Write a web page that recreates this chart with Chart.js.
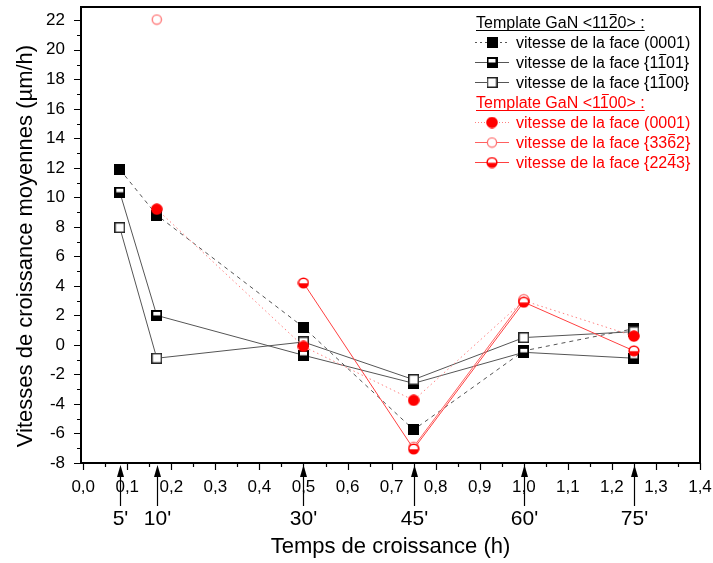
<!DOCTYPE html>
<html>
<head>
<meta charset="utf-8">
<script src="https://cdn.jsdelivr.net/npm/chart.js@4.4.1/dist/chart.umd.min.js"></script>
<style>
  html, body { margin: 0; padding: 0; background: #fff; }
  #wrap { width: 713px; height: 563px; }
</style>
</head>
<body>
<div id="wrap"><canvas id="chart" width="713" height="563"></canvas></div>
<script>
// growth times (h) and their labels in minutes
const times = [0.083, 0.167, 0.5, 0.75, 1.0, 1.25];
const timeLabels = ["5'", "10'", "30'", "45'", "60'", "75'"];

// template GaN <11-20>
const face0001A = [11.9, 8.8, 1.2, -5.75, -0.4, 1.1];
const face1101A = [10.35, 2.0, -0.7, -2.6, -0.5, -0.9];
const face1100A = [7.95, -0.9, 0.2, -2.35, 0.5, 0.9];
// template GaN <1-100>
const face0001B = [null, 9.2, -0.1, -3.75, 3.0, 0.6];
const face3362B = [null, 22.05, null, -6.9, 3.1, null];
const face2243B = [null, null, 4.2, -7.05, 2.9, -0.4];

const xTicks = [0, 0.1, 0.2, 0.3, 0.4, 0.5, 0.6, 0.7, 0.8, 0.9, 1.0, 1.1, 1.2, 1.3, 1.4];
const yTicks = [-8, -6, -4, -2, 0, 2, 4, 6, 8, 10, 12, 14, 16, 18, 20, 22];

const FONT = "'Liberation Sans', Arial, sans-serif";
const RED = "#ff0000";

function marker(size, draw) {
  const c = document.createElement("canvas");
  c.width = c.height = size;
  draw(c.getContext("2d"), size / 2);
  return c;
}

const mFilledSq = marker(11, (g) => { g.fillStyle = "#000"; g.fillRect(0, 0, 11, 11); });
const mHalfSq = marker(11, (g) => {
  g.fillStyle = "#000"; g.fillRect(0, 0, 11, 11);
  g.fillStyle = "#fff"; g.fillRect(2, 2, 7, 3.5);
});
const mOpenSq = marker(11, (g) => {
  g.fillStyle = "#fff"; g.fillRect(0, 0, 11, 11);
  g.strokeStyle = "#222"; g.lineWidth = 1.5; g.strokeRect(0.75, 0.75, 9.5, 9.5);
});
const mFilledCi = marker(12, (g, c) => {
  g.fillStyle = RED; g.beginPath(); g.arc(c, c, 5.8, 0, Math.PI * 2); g.fill();
});
const mOpenCi = marker(12, (g, c) => {
  g.fillStyle = "#fff"; g.strokeStyle = "#ff7070"; g.lineWidth = 1.3;
  g.beginPath(); g.arc(c, c, 4.6, 0, Math.PI * 2); g.fill(); g.stroke();
});
const mHalfCi = marker(12, (g, c) => {
  g.fillStyle = RED; g.beginPath(); g.arc(c, c, 5.6, 0, Math.PI * 2); g.fill();
  g.save(); g.beginPath(); g.arc(c, c, 4.1, 0, Math.PI * 2); g.clip();
  g.fillStyle = "#fff"; g.fillRect(0, 0, 12, c + 0.3); g.restore();
});

function series(label, values, style, color, dash, order) {
  return {
    label,
    data: times.map((t, i) => ({ x: t, y: values[i] })),
    showLine: true,
    borderColor: color,
    borderWidth: 1,
    borderDash: dash,
    pointStyle: style,
    pointRadius: 6,
    spanGaps: false,
    order
  };
}

const datasets = [
  series("vitesse de la face (0001)", face0001A, mFilledSq, "#555", [4, 4], 6),
  series("vitesse de la face {1-101}", face1101A, mHalfSq, "#555", [], 5),
  series("vitesse de la face {1-100}", face1100A, mOpenSq, "#555", [], 4),
  series("vitesse de la face (0001)", face0001B, mFilledCi, "#ff8080", [1.5, 3], 3),
  series("vitesse de la face {33-62}", face3362B, mOpenCi, "#ff6060", [], 2),
  series("vitesse de la face {22-43}", face2243B, mHalfCi, "#ff4040", [], 1)
];

// legend rows: text, barred character index, marker, colour, line dash
const legendRows = [
  { text: "Template GaN <1120> :", bar: 16, header: true, color: "#000" },
  { text: "vitesse de la face (0001)", bar: -1, m: mFilledSq, color: "#000", line: "#555", dash: [2, 3] },
  { text: "vitesse de la face {1101}", bar: 21, m: mHalfSq, color: "#000", line: "#555", dash: [] },
  { text: "vitesse de la face {1100}", bar: 21, m: mOpenSq, color: "#000", line: "#555", dash: [] },
  { text: "Template GaN <1100> :", bar: 15, header: true, color: RED },
  { text: "vitesse de la face (0001)", bar: -1, m: mFilledCi, color: RED, line: "#ff8080", dash: [1, 2] },
  { text: "vitesse de la face {3362}", bar: 22, m: mOpenCi, color: RED, line: "#ff6060", dash: [] },
  { text: "vitesse de la face {2243}", bar: 22, m: mHalfCi, color: RED, line: "#ff4040", dash: [] }
];

const decorPlugin = {
  id: "decor",
  afterDraw(chart) {
    const { ctx, chartArea: a, scales: { x, y } } = chart;
    ctx.save();
    // frame
    ctx.strokeStyle = "#000";
    ctx.lineWidth = 2;
    ctx.strokeRect(a.left, a.top, a.right - a.left, a.bottom - a.top);
    // ticks, major and minor
    ctx.lineWidth = 1.2;
    ctx.beginPath();
    xTicks.forEach((v, i) => {
      const px = Math.round(x.getPixelForValue(v)) + 0.5;
      ctx.moveTo(px, a.bottom); ctx.lineTo(px, a.bottom + 7);
      if (i < xTicks.length - 1) {
        const m = Math.round(x.getPixelForValue((v + xTicks[i + 1]) / 2)) + 0.5;
        ctx.moveTo(m, a.bottom); ctx.lineTo(m, a.bottom + 4);
      }
    });
    yTicks.forEach((v, i) => {
      const py = Math.round(y.getPixelForValue(v)) + 0.5;
      ctx.moveTo(a.left, py); ctx.lineTo(a.left - 7, py);
      if (i < yTicks.length - 1) {
        const m = Math.round(y.getPixelForValue((v + yTicks[i + 1]) / 2)) + 0.5;
        ctx.moveTo(a.left, m); ctx.lineTo(a.left - 4, m);
      }
    });
    ctx.stroke();

    // arrows marking growth times
    ctx.fillStyle = "#000";
    ctx.lineWidth = 1.2;
    ctx.font = "21px " + FONT;
    ctx.textAlign = "center";
    ctx.textBaseline = "middle";
    times.forEach((t, i) => {
      const px = Math.round(x.getPixelForValue(t)) + 0.5;
      const tip = a.bottom + 2;
      ctx.beginPath();
      ctx.moveTo(px, tip + 10); ctx.lineTo(px, 506);
      ctx.stroke();
      ctx.beginPath();
      ctx.moveTo(px, tip); ctx.lineTo(px - 3.5, tip + 12); ctx.lineTo(px + 3.5, tip + 12);
      ctx.closePath(); ctx.fill();
      ctx.fillText(timeLabels[i], px, 519);
    });

    // axis titles
    ctx.font = "22px " + FONT;
    ctx.fillText("Temps de croissance (h)", (a.left + a.right) / 2, 547);
    ctx.save();
    ctx.translate(26, 246);
    ctx.rotate(-Math.PI / 2);
    ctx.fillText("Vitesses de croissance moyennes (µm/h)", 0, 0);
    ctx.restore();

    // legend
    ctx.font = "16px " + FONT;
    ctx.textAlign = "left";
    ctx.textBaseline = "alphabetic";
    legendRows.forEach((r, i) => {
      const cy = 22 + i * 20;
      const tx = r.header ? 476 : 516;
      const base = cy + 6;
      ctx.fillStyle = r.color;
      ctx.fillText(r.text, tx, base);
      ctx.strokeStyle = r.color;
      ctx.lineWidth = 1;
      ctx.setLineDash([]);
      if (r.bar >= 0) {
        const bx = tx + ctx.measureText(r.text.slice(0, r.bar)).width;
        const bw = ctx.measureText(r.text[r.bar]).width;
        ctx.beginPath();
        ctx.moveTo(bx + 1, base - 13.5); ctx.lineTo(bx + bw - 1, base - 13.5);
        ctx.stroke();
      }
      if (r.header) {
        const w = ctx.measureText(r.text).width;
        ctx.beginPath();
        ctx.moveTo(tx, base + 2.5); ctx.lineTo(tx + w, base + 2.5);
        ctx.stroke();
      } else {
        ctx.strokeStyle = r.line;
        ctx.setLineDash(r.dash);
        ctx.beginPath();
        ctx.moveTo(475, cy + 0.5); ctx.lineTo(509, cy + 0.5);
        ctx.stroke();
        ctx.setLineDash([]);
        ctx.drawImage(r.m, 492 - r.m.width / 2, cy - r.m.height / 2 + 0.5);
      }
    });
    ctx.restore();
  }
};

new Chart(document.getElementById("chart"), {
  type: "scatter",
  data: { datasets },
  options: {
    responsive: false,
    animation: false,
    layout: { padding: { top: 7, right: 13, left: 0, bottom: 0 } },
    plugins: { legend: { display: false }, tooltip: { enabled: false } },
    scales: {
      x: {
        type: "linear",
        min: -0.005,
        max: 1.4,
        afterFit: (s) => { s.height = 100; s.paddingLeft = 0; s.paddingRight = 0; },
        afterBuildTicks: (s) => { s.ticks = xTicks.map((v) => ({ value: v })); },
        grid: { display: false, drawTicks: false },
        border: { display: false },
        ticks: {
          padding: 14,
          maxRotation: 0,
          autoSkip: false,
          color: "#000",
          font: { family: FONT, size: 17 },
          callback: (v) => v.toFixed(1).replace(".", ",")
        }
      },
      y: {
        type: "linear",
        min: -8,
        max: 22.9,
        afterFit: (s) => { s.width = 81; s.paddingTop = 0; s.paddingBottom = 0; },
        afterBuildTicks: (s) => { s.ticks = yTicks.map((v) => ({ value: v })); },
        grid: { display: false, drawTicks: false },
        border: { display: false },
        ticks: {
          padding: 16,
          autoSkip: false,
          color: "#000",
          font: { family: FONT, size: 17 },
          callback: (v) => String(v)
        }
      }
    }
  },
  plugins: [decorPlugin]
});
</script>
</body>
</html>
